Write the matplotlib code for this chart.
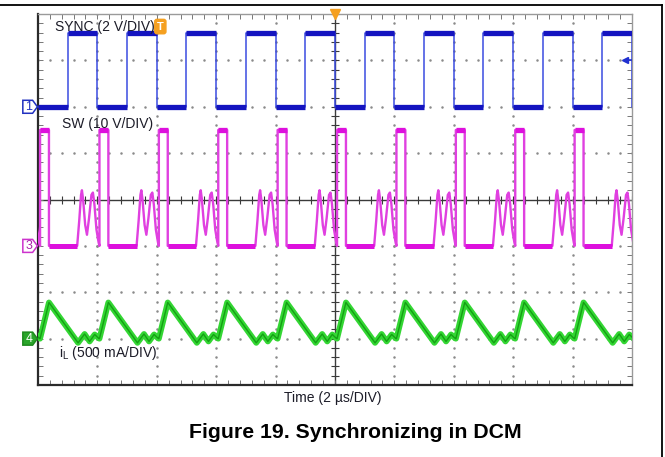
import matplotlib
matplotlib.use("Agg")
import matplotlib.pyplot as plt
import numpy as np
from matplotlib.patches import Polygon
from matplotlib.transforms import blended_transform_factory

plt.rcParams['font.family'] = ['Liberation Sans', 'DejaVu Sans']

# Scope settings: 10 divisions of 2 us, 8 vertical divisions
time_per_div_us = 2.0
sync_v_per_div = 2.0
sw_v_per_div = 10.0
il_ma_per_div = 500.0

# Channel ground markers (in divisions from screen centre)
sync_offset_div = 2.0
sw_offset_div = -1.0
il_offset_div = -3.0

# SYNC clock edges (us) and levels (V)
sync_rise_us = [1.0, 3.0, 5.0, 7.0, 9.0, 11.0, 13.0, 15.0, 17.0, 19.0]
sync_fall_us = [2.0, 4.0, 6.0, 8.0, 10.0, 12.0, 14.0, 16.0, 18.0, 20.0]
sync_high_v = 3.2
sync_low_v = 0.0

# Switching cycles start (us), one SW pulse per cycle
cycle_start_us = [-1.93, 0.07, 2.07, 4.07, 6.07, 8.07, 10.07, 12.07, 14.07, 16.07, 18.07]

# SW node shape within one cycle (time from cycle start in us, volts)
sw_shape_t = [0.0, 0.0, 0.30, 0.30, 1.25, 1.32, 1.38, 1.41, 1.45, 1.52, 1.58,
              1.65, 1.73, 1.78, 1.83, 1.90, 1.97]
sw_shape_v = [0.0, 25.0, 25.0, 0.0, 0.0, 5.5, 11.0, 12.0, 10.0, 4.5, 2.4,
              6.0, 11.0, 11.5, 9.0, 3.5, 0.8]

# Inductor current shape within one cycle (time from cycle start in us, mA)
il_shape_t = [0.0, 0.30, 1.28, 1.50, 1.67, 1.84, 1.97]
il_shape_ma = [0.0, 390.0, -45.0, 50.0, -30.0, 45.0, 5.0]

# Build SYNC trace as steps
sync_t = [0.0]
sync_v = [sync_low_v]
for r, f in zip(sync_rise_us, sync_fall_us):
    sync_t += [r, r, f, f]
    sync_v += [sync_low_v, sync_high_v, sync_high_v, sync_low_v]
sync_t = np.array(sync_t)
sync_y = np.array(sync_v) / sync_v_per_div + sync_offset_div

# Build SW and iL traces cycle by cycle
sw_t, sw_v, il_t, il_i = [], [], [], []
for t0 in cycle_start_us:
    sw_t += [t0 + t for t in sw_shape_t]
    sw_v += sw_shape_v
    il_t += [t0 + t for t in il_shape_t]
    il_i += il_shape_ma
sw_y = np.array(sw_v) / sw_v_per_div + sw_offset_div
il_y = np.array(il_i) / il_ma_per_div + il_offset_div

fig = plt.figure(figsize=(6.65, 4.57), dpi=100)
ax = fig.add_axes([0.0571, 0.1575, 0.8932, 0.8118])
ax.set_xlim(0, 10 * time_per_div_us)
ax.set_ylim(-4, 4)

# Graticule: dotted division lines, solid centre cross
grid_col = '#8a8a8a'
for gx in np.arange(2, 20, 2):
    if gx == 10:
        continue
    gy = np.arange(-4, 4.01, 0.2)
    ax.plot(np.full_like(gy, gx), gy, ls='none', marker='.', ms=1.6, color=grid_col)
for gy in np.arange(-3, 4, 1):
    if gy == 0:
        continue
    gx = np.arange(0, 20.01, 0.4)
    ax.plot(gx, np.full_like(gx, gy), ls='none', marker='.', ms=1.6, color=grid_col)
ax.axhline(0, color='#3a3a3a', lw=1.0, zorder=1)
ax.axvline(10, color='#3a3a3a', lw=1.0, zorder=1)
cx = np.arange(0, 20.01, 0.4)
ax.plot(cx, np.zeros_like(cx), ls='none', marker='|', ms=6, mew=0.8, color='#3a3a3a')
cy = np.arange(-4, 4.01, 0.2)
ax.plot(np.full_like(cy, 10), cy, ls='none', marker='_', ms=6, mew=0.8, color='#3a3a3a')

# Border ticks
ax.set_xticks(np.arange(0, 20.01, 0.4))
ax.set_yticks(np.arange(-4, 4.01, 0.2))
ax.tick_params(direction='in', length=3.5, width=0.7, color='#777777',
               top=True, right=True, labelbottom=False, labelleft=False)
for side in ['top', 'right']:
    ax.spines[side].set_color('#9a9a9a')
    ax.spines[side].set_linewidth(1.0)
for side in ['bottom', 'left']:
    ax.spines[side].set_color('#2a2a2a')
    ax.spines[side].set_linewidth(1.6)

# SYNC trace (blue)
ax.plot(sync_t, sync_y, color='#3a4be0', lw=1.1, zorder=3)
rise = np.array(sync_rise_us)
fall = np.array(sync_fall_us)
low_start = np.concatenate([[0.0], fall[:-1]])
ax.hlines(np.full(len(rise), sync_high_v / sync_v_per_div + sync_offset_div), rise, fall,
          color='#1414c0', lw=3.8, zorder=4)
ax.hlines(np.full(len(rise), sync_low_v / sync_v_per_div + sync_offset_div), low_start, rise,
          color='#1414c0', lw=3.8, zorder=4)

# SW trace (magenta)
ax.plot(sw_t, sw_y, color='#e040e0', lw=1.7, zorder=3)
starts = np.array(cycle_start_us)
ax.hlines(np.full(len(starts), sw_shape_v[1] / sw_v_per_div + sw_offset_div),
          starts + sw_shape_t[1], starts + sw_shape_t[2], color='#dd10dd', lw=3.8, zorder=4)
ax.hlines(np.full(len(starts), sw_shape_v[3] / sw_v_per_div + sw_offset_div),
          starts + sw_shape_t[3], starts + sw_shape_t[4], color='#dd10dd', lw=3.6, zorder=4)

# Inductor current (green)
ax.plot(il_t, il_y, color='#33d633', lw=4.2, zorder=3, solid_joinstyle='round')
ax.plot(il_t, il_y, color='#14a014', lw=1.0, zorder=4)

# Trace labels
txt_col = '#1c1c28'
ax.text(0.57, 3.73, 'SYNC (2 V/DIV)', fontsize=10, color=txt_col, va='center', zorder=6)
ax.text(0.81, 1.62, 'SW (10 V/DIV)', fontsize=10, color=txt_col, va='center', zorder=6)
ax.text(0.71, -3.3, 'i$_\\mathregular{L}$ (500 mA/DIV)', fontsize=10, color=txt_col, va='center', zorder=6)

# Trigger markers
ax.text(4.12, 3.73, 'T', fontsize=8, fontweight='bold', color='white', ha='center', va='center',
        bbox=dict(boxstyle='round,pad=0.2', fc='#f5a020', ec='#f5a020'), zorder=7)
ax.plot([10], [4], marker='v', ms=7, color='#f5a020', clip_on=False, zorder=7)
ax.plot([19.8, 19.97], [3.0, 3.0], color='#2030d0', lw=1.2, zorder=7)
ax.plot([19.78], [3.0], marker='<', ms=5, color='#2030d0', zorder=7)

# Channel ground markers on the left
bt = blended_transform_factory(ax.transAxes, ax.transData)
marks = [(sync_offset_div, '1', 'white', '#2030c0', '#2030c0'),
         (sw_offset_div, '3', 'white', '#cc33cc', '#aa22aa'),
         (il_offset_div, '4', '#2aa52a', '#1e8a1e', 'white')]
for yy, lab, fc, ec, tc in marks:
    pts = [(-0.0255, yy + 0.14), (-0.009, yy + 0.14), (-0.001, yy),
           (-0.009, yy - 0.14), (-0.0255, yy - 0.14)]
    ax.add_patch(Polygon(pts, closed=True, fc=fc, ec=ec, lw=1.1, transform=bt, clip_on=False, zorder=8))
    ax.text(-0.0155, yy, lab, transform=bt, fontsize=9, color=tc, ha='center', va='center', zorder=9)

# Axis caption and figure title
fig.text(333 / 665, 1 - 398 / 457, 'Time (2 \u00b5s/DIV)', fontsize=10, color=txt_col, ha='center', va='center')
fig.text(355 / 665, 1 - 432 / 457, 'Figure 19. Synchronizing in DCM', fontsize=15.3, fontweight='bold',
         color='black', ha='center', va='center')

# Document frame (top and right edges)
fig.add_artist(plt.Line2D([0, 662 / 665], [1 - 5 / 457, 1 - 5 / 457], color='black', lw=1.3))
fig.add_artist(plt.Line2D([662 / 665, 662 / 665], [0, 1 - 5 / 457], color='black', lw=1.3))

fig.savefig('out.png', dpi=100)
